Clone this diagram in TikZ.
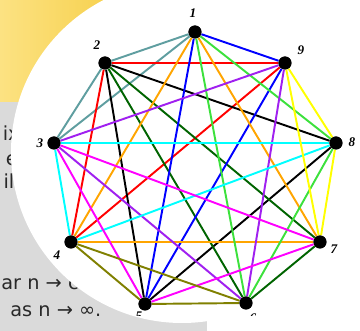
\documentclass[tikz,border=0pt]{standalone}
\usepackage{fontspec}
\setmainfont{Liberation Serif}
\newfontfamily\handfont{DejaVu Sans}
\usetikzlibrary{positioning}
\definecolor{cadet}{RGB}{95,158,160}
\definecolor{dkgreen}{RGB}{0,100,0}
\definecolor{ltgreen}{RGB}{60,225,60}
\definecolor{violet2}{RGB}{160,32,240}
\definecolor{orange2}{RGB}{255,165,0}
\definecolor{olive2}{RGB}{128,128,0}
\definecolor{cyan2}{RGB}{0,255,255}
\definecolor{magenta2}{RGB}{255,0,255}
\definecolor{yellow2}{RGB}{255,255,0}
\definecolor{red2}{RGB}{255,0,0}
\definecolor{blue2}{RGB}{0,0,255}
\definecolor{paperyellow}{RGB}{252,226,130}
\definecolor{paperyellowdark}{RGB}{246,206,70}
\definecolor{papergrey}{RGB}{218,218,218}
\definecolor{ink}{RGB}{40,40,40}

\begin{document}
\begin{tikzpicture}[x=0.02cm, y=-0.02cm,
  vertex/.style={circle, fill=black, inner sep=0pt, minimum size=0.26cm},
  vlabel/.style={font=\fontsize{7.5}{9}\selectfont\bfseries\itshape, inner sep=0pt},
  edge/.style={line width=1.1pt},
  hand/.style={font=\handfont\fontsize{11}{12}\selectfont, text=ink, inner sep=0pt}]
  \useasboundingbox (0,0) rectangle (360,331);
  % background: yellow sheet, grey notes page, white disc
  \shade[left color=paperyellow, right color=paperyellowdark] (0,0) rectangle (130,102);
  \fill[papergrey] (0,102) rectangle (207,331);
  \node[hand, anchor=east] (n1) at (20,133) {ix};
  \node[hand, anchor=east] (n2) at (18,160) {e};
  \node[hand, anchor=east] (n3) at (20,181) {ill};
  \node[hand, anchor=base west] (n4) at (1,290) {ar n → c};
  \node[hand, anchor=base west] (n5) at (10,317) {as n → ∞.};
  \fill[white] (182,152) circle (171);

  % vertices
  \node[vertex] (v1) at (195,32) {};
  \node[vertex] (v2) at (105,63) {};
  \node[vertex] (v3) at (54,143) {};
  \node[vertex] (v4) at (71,242) {};
  \node[vertex] (v5) at (145,304) {};
  \node[vertex] (v6) at (246,303) {};
  \node[vertex] (v7) at (320,242) {};
  \node[vertex] (v8) at (336,143) {};
  \node[vertex] (v9) at (285,63) {};

  % one triangle per colour
  \draw[edge, cadet] (v1) -- (v2) -- (v3) -- (v1);
  \draw[edge, red2] (v2) -- (v9) -- (v4) -- (v2);
  \draw[edge, black] (v2) -- (v8) -- (v5) -- (v2);
  \draw[edge, dkgreen] (v2) -- (v6) -- (v7) -- (v2);
  \draw[edge, blue2] (v1) -- (v9) -- (v5) -- (v1);
  \draw[edge, orange2] (v1) -- (v4) -- (v7) -- (v1);
  \draw[edge, ltgreen] (v1) -- (v6) -- (v8) -- (v1);
  \draw[edge, violet2] (v3) -- (v9) -- (v6) -- (v3);
  \draw[edge, cyan2] (v3) -- (v8) -- (v4) -- (v3);
  \draw[edge, magenta2] (v3) -- (v5) -- (v7) -- (v3);
  \draw[edge, yellow2] (v7) -- (v8) -- (v9) -- (v7);
  \draw[edge, olive2] (v4) -- (v5) -- (v6) -- (v4);

  % redraw dots on top
  \foreach \v in {v1,v2,v3,v4,v5,v6,v7,v8,v9}
    \fill (\v) circle (6.5);

  % labels
  \node[vlabel] (l1) at (193,13) {1};
  \node[vlabel] (l2) at (97,45) {2};
  \node[vlabel] (l3) at (40,143) {3};
  \node[vlabel] (l4) at (57,255) {4};
  \node[vlabel] (l7) at (334,249) {7};
  \node[vlabel] (l8) at (352,142) {8};
  \node[vlabel] (l9) at (301,50) {9};
  \begin{scope}
    \clip (0,0) rectangle (360,316);
    \node[vlabel] (l5) at (139,316) {5};
    \node[vlabel] (l6) at (253,318) {6};
  \end{scope}
\end{tikzpicture}
\end{document}
